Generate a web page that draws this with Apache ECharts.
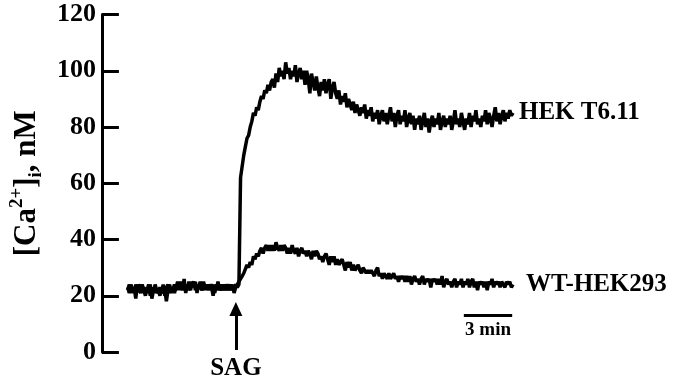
<!DOCTYPE html>
<html>
<head>
<meta charset="utf-8">
<script src="https://cdn.jsdelivr.net/npm/echarts@6/dist/echarts.min.js"></script>
<style>
html, body { margin: 0; padding: 0; background: #fff; }
#calcium { width: 675px; height: 382px; }
</style>
</head>
<body>
<div id="calcium"></div>
<script>
// sampling of the recording (minutes)
var tStart = 1.6;
var dt = 0.1;

// WT-HEK293, [Ca2+]i in nM
var wtValues = [
	23, 21, 24, 22, 23, 19, 24, 22, 21, 24,
	22, 20, 23, 21, 24, 19, 22, 23, 21, 22,
	20, 23, 21, 22, 18, 22, 24, 21, 23, 21,
	23, 25, 22, 24, 22, 26, 21, 24, 23, 22,
	25, 23, 25, 21, 24, 23, 22, 25, 23, 24,
	22, 24, 23, 20, 24, 22, 25, 22, 23, 22,
	24, 22, 23, 24, 22, 24, 21, 23, 24, 25,
	26, 27, 28, 28, 31, 30, 32, 31, 34, 33,
	35, 34, 36, 37, 35, 37, 38, 36, 38, 36,
	38, 36, 39, 37, 36, 38, 36, 38, 37, 35,
	37, 35, 38, 36, 35, 37, 34, 36, 37, 35,
	36, 34, 36, 35, 33, 36, 34, 36, 35, 33,
	34, 32, 34, 35, 33, 31, 34, 32, 34, 31,
	33, 31, 32, 33, 31, 29, 32, 30, 32, 29,
	31, 29, 30, 31, 29, 28, 30, 30, 28, 29,
	28, 29, 28, 27, 29, 30, 27, 28, 26, 28,
	28, 26, 28, 26, 27, 28, 26, 27, 25, 27,
	26, 27, 25, 27, 25, 27, 24, 26, 27, 25,
	26, 24, 26, 27, 24, 26, 25, 26, 23, 26,
	25, 26, 24, 26, 24, 27, 23, 25, 26, 24,
	25, 23, 25, 26, 23, 25, 24, 26, 23, 25,
	24, 26, 23, 25, 26, 23, 25, 22, 25, 24,
	25, 23, 25, 22, 25, 24, 26, 23, 25, 24,
	25, 23, 25, 24, 23, 25, 24, 25, 23, 24
];

// HEK T6.11, [Ca2+]i in nM
var hekValues = [
	22, 24, 21, 23, 21, 24, 22, 23, 24, 21,
	23, 21, 22, 24, 20, 23, 21, 24, 22, 21,
	23, 21, 24, 20, 23, 24, 21, 23, 22, 24,
	22, 24, 23, 25, 22, 24, 23, 22, 25, 23,
	23, 25, 22, 24, 23, 25, 23, 22, 24, 22,
	24, 22, 24, 23, 21, 24, 22, 24, 22, 24,
	22, 24, 23, 22, 24, 22, 23, 24, 23, 24,
	62, 66, 70, 73, 76, 77, 80, 82, 85, 84,
	87, 86, 89, 91, 90, 93, 92, 95, 93, 96,
	97, 94, 99, 96, 101, 98, 100, 97, 103, 99,
	101, 97, 100, 98, 102, 96, 99, 101, 97, 100,
	95, 100, 97, 92, 99, 96, 93, 98, 94, 91,
	96, 93, 97, 92, 95, 97, 90, 94, 96, 92,
	90, 93, 88, 91, 89, 92, 87, 90, 88, 86,
	89, 85, 88, 86, 84, 87, 85, 88, 83, 86,
	84, 87, 82, 85, 83, 86, 81, 84, 86, 82,
	85, 81, 84, 87, 82, 85, 80, 84, 86, 81,
	84, 82, 86, 80, 83, 85, 81, 84, 79, 83,
	81, 84, 79, 82, 85, 80, 83, 78, 82, 84,
	80, 83, 81, 85, 79, 82, 84, 80, 83, 81,
	84, 79, 82, 86, 81, 83, 80, 85, 82, 79,
	83, 81, 85, 80, 84, 82, 86, 81, 83, 80,
	84, 82, 86, 81, 85, 83, 80, 84, 87, 82,
	85, 81, 84, 86, 82, 85, 83, 86, 84, 85
];

var yTicks = [ 0, 20, 40, 60, 80, 100, 120 ];

// SAG addition time and 3 min scale bar (minutes / nM)
var sagTime = 8.31;
var sagArrow = [ 0.7, 15.3 ];
var scaleBar = [ 22.45, 25.45 ];
var scaleBarLevel = 13.2;

function toPairs(values) {
	return values.map(function(v, i) {
		return [ +(tStart + i * dt).toFixed(2), v ];
	});
}

var serif = '"Liberation Serif", "Times New Roman", Times, serif';

var chart = echarts.init(document.getElementById('calcium'));

var option = {
	animation : false,
	grid : {
		left : 96,
		right : 162,
		top : 14.5,
		bottom : 30
	},
	xAxis : {
		type : 'value',
		min : 0,
		max : 25.5,
		show : false
	},
	yAxis : {
		type : 'value',
		min : yTicks[0],
		max : yTicks[yTicks.length - 1],
		interval : 20,
		name : '{b|[Ca}{sup|2+}{b|]}{sub|i}{b|, nM}',
		nameLocation : 'middle',
		nameRotate : 90,
		nameGap : 55,
		nameTextStyle : {
			rich : {
				b : {
					fontFamily : serif,
					fontWeight : 'bold',
					fontSize : 31,
					lineHeight : 38,
					color : '#000'
				},
				sup : {
					fontFamily : serif,
					fontWeight : 'bold',
					fontSize : 19,
					verticalAlign : 'top',
					color : '#000'
				},
				sub : {
					fontFamily : serif,
					fontWeight : 'bold',
					fontSize : 19,
					verticalAlign : 'bottom',
					color : '#000'
				}
			}
		},
		axisLine : {
			show : true,
			lineStyle : {
				color : '#000',
				width : 3
			}
		},
		axisTick : {
			show : true,
			inside : true,
			length : 17,
			lineStyle : {
				color : '#000',
				width : 3
			}
		},
		axisLabel : {
			margin : 6,
			fontFamily : serif,
			fontWeight : 'bold',
			fontSize : 26,
			color : '#000'
		},
		splitLine : {
			show : false
		}
	},
	series : [ {
		name : 'WT-HEK293',
		type : 'line',
		showSymbol : false,
		data : toPairs(wtValues),
		lineStyle : {
			color : '#000',
			width : 3.5
		},
		endLabel : {
			show : true,
			formatter : '{a}',
			distance : 13,
			fontFamily : serif,
			fontWeight : 'bold',
			fontSize : 25,
			color : '#000'
		},
		markLine : {
			silent : true,
			animation : false,
			data : [
				[ {
					coord : [ sagTime, sagArrow[0] ],
					symbol : 'none',
					label : {
						show : true,
						position : 'start',
						distance : 6,
						formatter : 'SAG',
						fontFamily : serif,
						fontWeight : 'bold',
						fontSize : 25,
						color : '#000'
					}
				}, {
					coord : [ sagTime, sagArrow[1] ],
					symbol : 'triangle',
					symbolSize : [ 13, 14 ]
				} ],
				[ {
					coord : [ scaleBar[0], scaleBarLevel ],
					symbol : 'none',
					label : {
						show : true,
						position : 'insideMiddleBottom',
						distance : 6,
						formatter : '3 min',
						fontFamily : serif,
						fontWeight : 'bold',
						fontSize : 19,
						color : '#000'
					}
				}, {
					coord : [ scaleBar[1], scaleBarLevel ],
					symbol : 'none'
				} ]
			],
			lineStyle : {
				color : '#000',
				width : 3,
				type : 'solid'
			}
		}
	}, {
		name : 'HEK T6.11',
		type : 'line',
		showSymbol : false,
		data : toPairs(hekValues),
		lineStyle : {
			color : '#000',
			width : 3.5
		},
		endLabel : {
			show : true,
			formatter : '{a}',
			distance : 6,
			fontFamily : serif,
			fontWeight : 'bold',
			fontSize : 25,
			color : '#000'
		}
	} ]
};

chart.setOption(option);
</script>
</body>
</html>
